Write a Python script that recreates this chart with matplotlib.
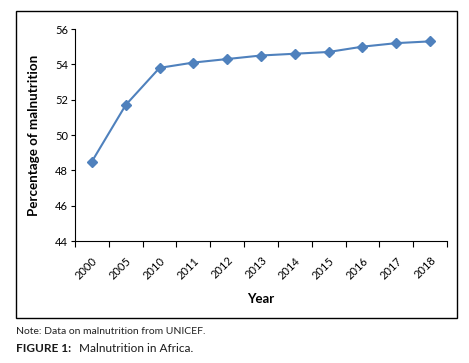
import matplotlib
matplotlib.use("Agg")
import matplotlib.pyplot as plt
from matplotlib.patches import Rectangle

plt.rcParams['font.family'] = ['Lato', 'DejaVu Sans']

years = ["2000", "2005", "2010", "2011", "2012", "2013", "2014", "2015", "2016", "2017", "2018"]
values = [48.5, 51.7, 53.8, 54.1, 54.3, 54.5, 54.6, 54.7, 55.0, 55.2, 55.3]
yticks = [44, 46, 48, 50, 52, 54, 56]

W, H = 469, 363
fig = plt.figure(figsize=(W / 100, H / 100), dpi=100)
fig.patch.set_facecolor("white")

# outer frame
fig.add_artist(Rectangle((16 / W, 1 - 318 / H), (457 - 16) / W, (318 - 11) / H,
                         transform=fig.transFigure, fill=False, edgecolor="black", linewidth=1.0))

ax = fig.add_axes([75 / W, 1 - 241 / H, (447 - 75) / W, (241 - 29) / H])
x = list(range(len(years)))
ax.plot(x, values, color="#4F81BD", linewidth=1.5, marker="D", markersize=5.5,
        markerfacecolor="#4F81BD", markeredgecolor="#4F81BD")

ax.set_xlim(-0.5, len(years) - 0.5)
ax.set_ylim(44, 56)
ax.set_yticks(yticks)
ax.set_yticklabels([str(v) for v in yticks], fontsize=8)
ax.set_xticks(x)
ax.set_xticklabels(years, rotation=45, ha="right", rotation_mode="anchor", fontsize=8)
ax.tick_params(axis="x", length=0, pad=10)
ax.set_xticks([i - 0.5 for i in range(len(years) + 1)], minor=True)
ax.tick_params(axis="x", which="minor", length=4, width=0.8)
ax.tick_params(axis="y", length=3, width=0.8, pad=2)
for s in ["top", "right"]:
    ax.spines[s].set_visible(False)
for s in ["left", "bottom"]:
    ax.spines[s].set_linewidth(0.8)

ax.set_xlabel("Year", fontsize=9.5, fontweight="bold", labelpad=9)
ax.set_ylabel("Percentage of malnutrition", fontsize=9.6, fontweight="bold", labelpad=11)

fig.text(16 / W, 1 - 331 / H, "Note: Data on malnutrition from UNICEF.", fontsize=7.5,
         va="center", ha="left", color="#222222")
fig.text(16 / W, 1 - 349 / H, "FIGURE 1:", fontsize=8.5, fontweight="bold",
         va="center", ha="left", color="#1a1a1a")
fig.text(79 / W, 1 - 349 / H, "Malnutrition in Africa.", fontsize=8.5,
         va="center", ha="left", color="#1a1a1a")

fig.savefig("out.png", dpi=100)
